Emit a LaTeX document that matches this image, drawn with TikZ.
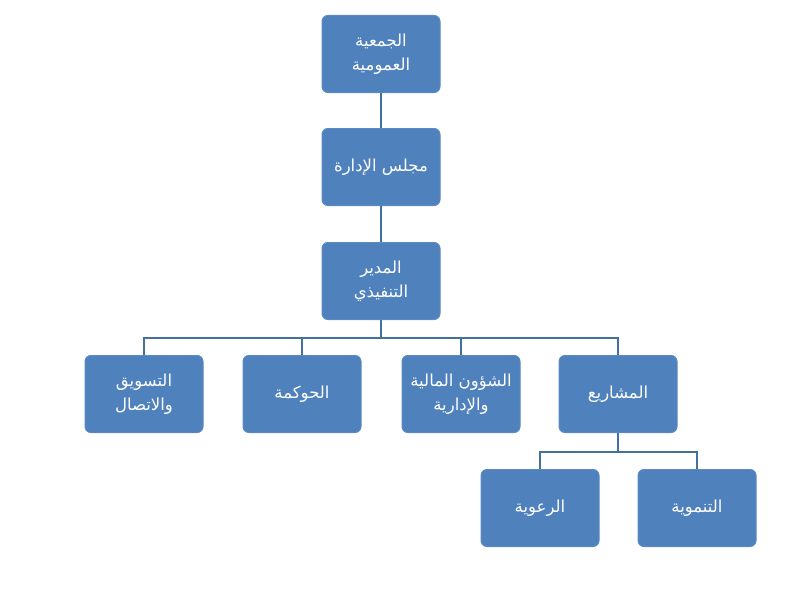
\documentclass[tikz,border=0pt]{standalone}
\usepackage{fontspec}
\newfontfamily\arabicfont[Script=Arabic]{DejaVu Sans}
\TeXXeTstate=1
\definecolor{boxfill}{HTML}{4F81BD}
\definecolor{boxedge}{HTML}{5A8AC4}
\definecolor{linkcol}{HTML}{41719C}
\begin{document}
\begin{tikzpicture}[x=1pt,y=-1pt,
  orgbox/.style={draw=boxedge,line width=1pt,fill=boxfill,rounded corners=6pt,
    minimum width=118pt,minimum height=77pt,inner sep=2pt,align=center,
    text=white,font=\arabicfont\fontsize{16.5}{24}\selectfont},
  link/.style={draw=linkcol,line width=2pt}]
\useasboundingbox (0,0) rectangle (800,594);
\fill[white] (0,0) rectangle (800,594);
\node[orgbox] (ga) at (381,54) {\beginR الجمعية\endR\\\beginR العمومية\endR};
\node[orgbox] (bd) at (381,167) {\beginR مجلس الإدارة\endR};
\node[orgbox] (ed) at (381,281) {\beginR المدير\endR\\\beginR التنفيذي\endR};
\node[orgbox] (mk) at (144,394) {\beginR التسويق\endR\\\beginR والاتصال\endR};
\node[orgbox] (gv) at (302,394) {\beginR الحوكمة\endR};
\node[orgbox] (fa) at (461,394) {\beginR الشؤون المالية\endR\\\beginR والإدارية\endR};
\node[orgbox] (pr) at (618,394) {\beginR المشاريع\endR};
\node[orgbox] (rw) at (540,508) {\beginR الرعوية\endR};
\node[orgbox] (dv) at (697,508) {\beginR التنموية\endR};
\draw[link] (ga.south) -- (bd.north);
\draw[link] (bd.south) -- (ed.north);
\coordinate (j1) at (381,338);
\draw[link] (ed.south) -- (j1);
\draw[link] (mk.north) |- (j1);
\draw[link] (gv.north) |- (j1);
\draw[link] (fa.north) |- (j1);
\draw[link] (pr.north) |- (j1);
\coordinate (j2) at (618,452);
\draw[link] (pr.south) -- (j2);
\draw[link] (rw.north) |- (j2);
\draw[link] (dv.north) |- (j2);
\end{tikzpicture}
\end{document}
